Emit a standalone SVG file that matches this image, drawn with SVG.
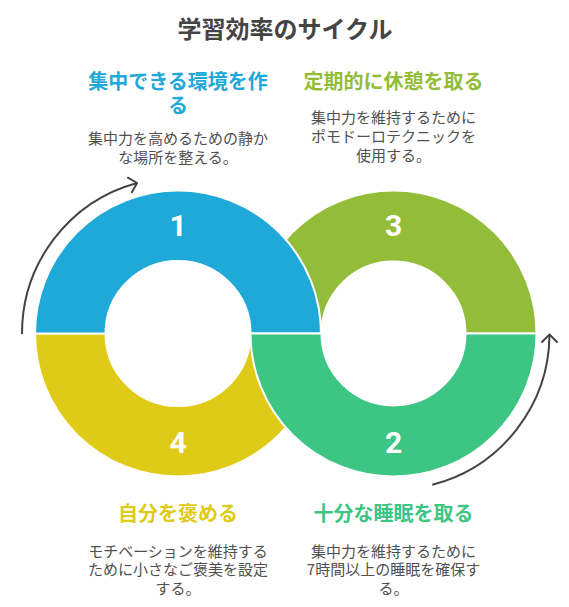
<svg xmlns="http://www.w3.org/2000/svg" width="569" height="607" viewBox="0 0 569 607">
<style>
.title{font-family:"Noto Sans CJK JP","Noto Sans",sans-serif;font-weight:700;font-size:24px;fill:#444444;text-anchor:middle}
.head{font-family:"Noto Sans CJK JP","Noto Sans",sans-serif;font-weight:700;font-size:20px;text-anchor:middle}
.desc{font-family:"Noto Sans CJK JP","Noto Sans",sans-serif;font-size:15px;fill:#505050;text-anchor:middle}
.num{font-family:Roboto,"Liberation Sans",sans-serif;font-weight:700;font-size:30px;fill:#ffffff;text-anchor:middle}
.seg{stroke:#ffffff;stroke-width:2;stroke-linejoin:miter}
.arc{fill:none;stroke:#444444;stroke-width:2;marker-end:url(#chev)}
</style>
<defs>
<marker id="chev" markerUnits="userSpaceOnUse" orient="auto" markerWidth="20" markerHeight="20" viewBox="-10 -10 20 20" refX="0" refY="0" overflow="visible">
<path d="M -7.5 -7.5 L 0 0 L -7.5 7.5" fill="none" stroke="#444444" stroke-width="2" stroke-linecap="round" stroke-linejoin="round"/>
</marker>
</defs>
<rect width="569" height="607" fill="#ffffff"/>
<text class="title" x="285" y="38">学習効率のサイクル</text>

<g id="step3">
<path class="seg" fill="#93BD39" d="M 250.5 333.5 A 143 143 0 0 1 536.5 333.5 L 465.5 333.5 A 72 72 0 0 0 321.5 333.5 Z"/>
<text class="num" x="393.5" y="236">3</text>
<text class="head" x="393.5" y="89" fill="#93BD39">定期的に休憩を取る</text>
<text class="desc" x="393.5" y="123">集中力を維持するために</text>
<text class="desc" x="393.5" y="142">ポモドーロテクニックを</text>
<text class="desc" x="393.5" y="160.5">使用する。</text>
</g>

<g id="step4">
<path class="seg" fill="#DFCB17" d="M 35 333.5 A 143 143 0 0 0 321 333.5 L 250.5 333.5 A 72.5 72.5 0 0 1 105.5 333.5 Z"/>
<text class="num" x="178" y="452.5">4</text>
<text class="head" x="178" y="521" fill="#DFCB17">自分を褒める</text>
<text class="desc" x="178" y="556.5">モチベーションを維持する</text>
<text class="desc" x="178" y="575">ために小さなご褒美を設定</text>
<text class="desc" x="178" y="593.5">する。</text>
</g>

<g id="step1">
<path class="seg" fill="#1FA9D8" d="M 35 333.5 A 143 143 0 0 1 321 333.5 L 250.5 333.5 A 72.5 72.5 0 0 0 105.5 333.5 Z"/>
<text class="num" x="178" y="236">1</text>
<text class="head" x="178" y="89" fill="#1FA9D8">集中できる環境を作</text>
<text class="head" x="178" y="113" fill="#1FA9D8">る</text>
<text class="desc" x="178" y="144">集中力を高めるための静か</text>
<text class="desc" x="178" y="162.5">な場所を整える。</text>
</g>

<g id="step2">
<path class="seg" fill="#3DC584" d="M 250.5 333.5 A 143 143 0 0 0 536.5 333.5 L 465.5 333.5 A 72 72 0 0 1 321.5 333.5 Z"/>
<text class="num" x="393.5" y="452.5">2</text>
<text class="head" x="393.5" y="521" fill="#3DC584">十分な睡眠を取る</text>
<text class="desc" x="393.5" y="556.5">集中力を維持するために</text>
<text class="desc" x="393.5" y="575">7時間以上の睡眠を確保す</text>
<text class="desc" x="393.5" y="593.5">る。</text>
</g>

<g id="connectors">
<path class="arc" d="M 22 334 A 156 156 0 0 1 137.1 183"/>
<path class="arc" d="M 432.3 484.7 A 156 156 0 0 0 549.5 334.5"/>
</g>
</svg>
